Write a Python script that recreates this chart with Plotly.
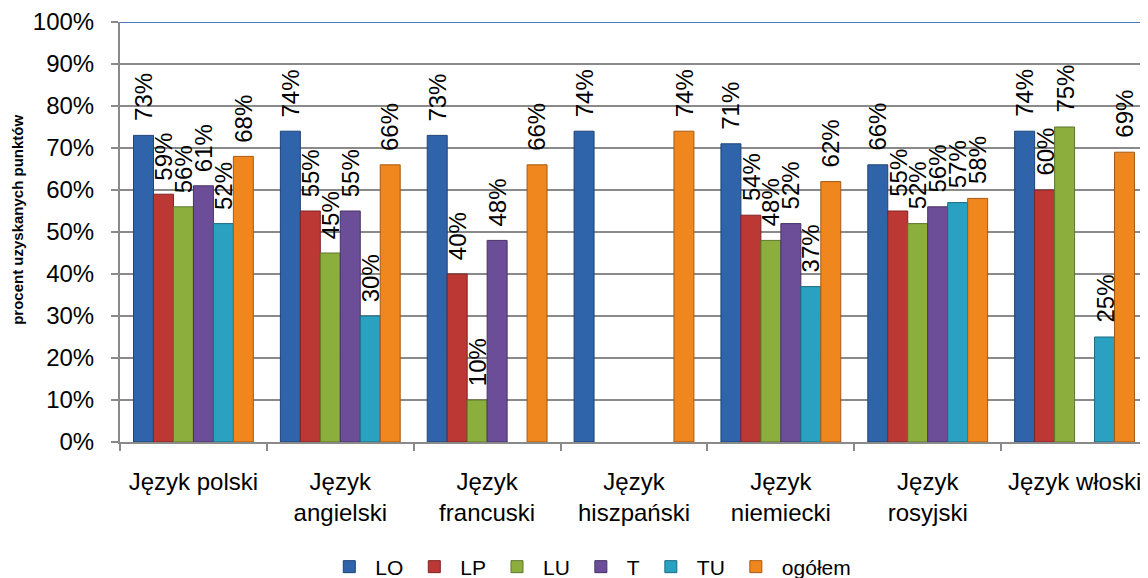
import plotly.graph_objects as go

categories = ["Język polski", "Język<br>angielski", "Język<br>francuski", "Język<br>hiszpański",
              "Język<br>niemiecki", "Język<br>rosyjski", "Język włoski"]
series_names = ["LO", "LP", "LU", "T", "TU", "ogółem"]
LO = [73, 74, 73, 74, 71, 66, 74]
LP = [59, 55, 40, None, 54, 55, 60]
LU = [56, 45, 10, None, 48, 52, 75]
T = [61, 55, 48, None, 52, 56, None]
TU = [52, 30, None, None, 37, 57, 25]
OG = [68, 66, 66, 74, 62, 58, 69]
series_values = [LO, LP, LU, T, TU, OG]
y_ticks = list(range(0, 101, 10))

colors = ["#2F64AA", "#BC3835", "#8BAE3D", "#6C4E98", "#2BA1C2", "#F0861E"]
edges = ["#1E4375", "#7E2422", "#5E772A", "#463266", "#1C6C82", "#A65A12"]

FONT = "Liberation Sans, Arial, sans-serif"
n_cat = len(categories)
n_ser = len(series_names)
bar_w = 0.136

fig = go.Figure()
annotations = []
for j, (name, vals) in enumerate(zip(series_names, series_values)):
    off = (j - (n_ser - 1) / 2) * bar_w
    xs = [i + off for i in range(n_cat)]
    fig.add_trace(go.Bar(
        x=xs, y=vals, width=bar_w, name=name,
        marker=dict(color=colors[j], line=dict(color=edges[j], width=1)),
    ))
    for x, v in zip(xs, vals):
        if v is None:
            continue
        annotations.append(dict(
            x=x, y=v, xref="x", yref="y", text=f"{v}%", textangle=-90,
            showarrow=False, xanchor="center", yanchor="bottom", yshift=12,
            font=dict(family=FONT, size=24, color="#000000"),
        ))

annotations.append(dict(
    x=-0.0992, y=0.529, xref="paper", yref="paper", text="<b>procent uzyskanych punktów</b>",
    textangle=-90, showarrow=False, xanchor="center", yanchor="middle",
    font=dict(family=FONT, size=15, color="#000000"),
))

fig.update_layout(
    width=1140, height=600,
    margin=dict(l=112, r=0, t=14, b=166),
    paper_bgcolor="white", plot_bgcolor="white",
    barmode="overlay",
    showlegend=True,
    legend=dict(orientation="h", x=0.457, xanchor="center", y=-0.2976, yanchor="middle",
                itemwidth=42,
                font=dict(family=FONT, size=21, color="#000000"), traceorder="normal"),
    annotations=annotations,
    xaxis=dict(
        range=[-0.5, n_cat - 0.5], tickmode="array", automargin=False,
        tickvals=list(range(n_cat)), ticktext=categories,
        ticks="", showgrid=False, zeroline=False,
        showline=True, linecolor="#8A8A8A", linewidth=2,
        tickfont=dict(family=FONT, size=24, color="#000000"),
        ticklabelstandoff=17,
        minor=dict(tickmode="array", tickvals=[i - 0.5 for i in range(n_cat + 1)],
                   ticks="outside", ticklen=7, tickcolor="#8A8A8A", tickwidth=2, showgrid=False),
    ),
    yaxis=dict(
        range=[0, 100], tickmode="array", tickvals=y_ticks, automargin=False,
        ticktext=[f"{t}%" for t in y_ticks],
        ticks="outside", ticklen=7, tickcolor="#8A8A8A", tickwidth=2,
        showgrid=True, gridcolor="#8A8A8A", gridwidth=1.5, zeroline=False,
        showline=True, linecolor="#8A8A8A", linewidth=2,
        tickfont=dict(family=FONT, size=24, color="#000000"),
        ticklabelstandoff=12,
    ),
    shapes=[dict(type="line", xref="paper", yref="y", x0=0, x1=1, y0=100, y1=100,
                 line=dict(color="#4A7EBB", width=2))],
)

fig.write_html("out.html")
